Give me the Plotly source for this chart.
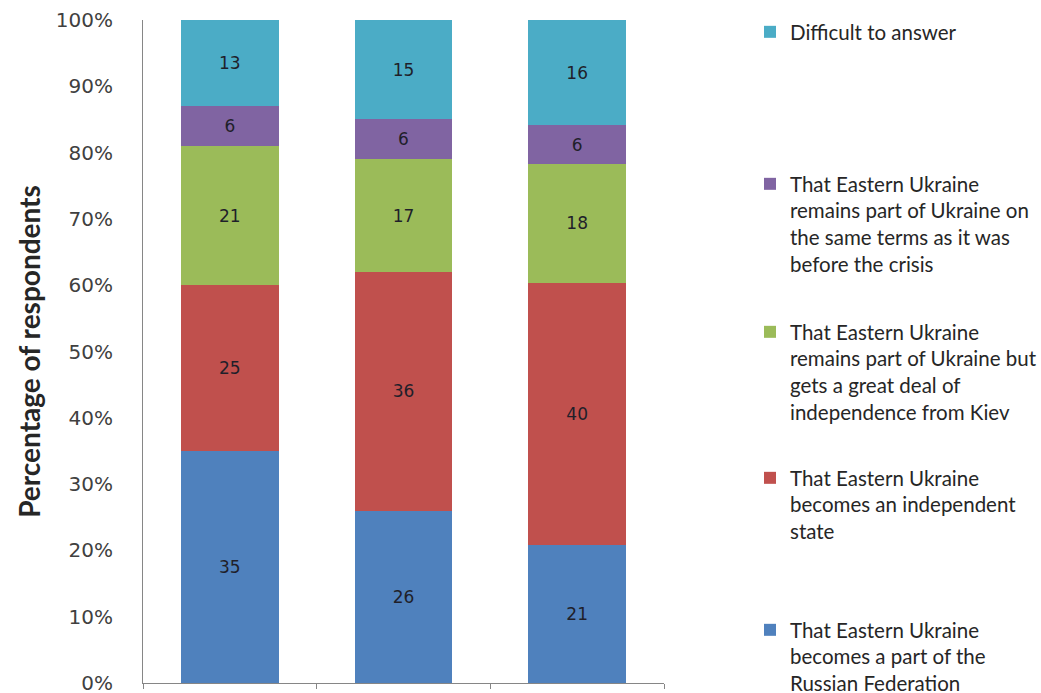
import plotly.graph_objects as go

categories = ["A", "B", "C"]
russia = [35, 26, 21]
independent = [25, 36, 40]
autonomy = [21, 17, 18]
same_terms = [6, 6, 6]
difficult = [13, 15, 16]

series = [
    ("That Eastern Ukraine<br>becomes a part of the<br>Russian Federation", russia, "#4F81BD", "legend5", 630),
    ("That Eastern Ukraine<br>becomes an independent<br>state", independent, "#C0504D", "legend4", 478),
    ("That Eastern Ukraine<br>remains part of Ukraine but<br>gets a great deal of<br>independence from Kiev", autonomy, "#9BBB59", "legend3", 332),
    ("That Eastern Ukraine<br>remains part of Ukraine on<br>the same terms as it was<br>before the crisis", same_terms, "#8064A2", "legend2", 184),
    ("Difficult to answer", difficult, "#4BACC6", "legend", 32),
]

W, H = 1041, 693
fig = go.Figure()
legends = {}
for name, vals, color, lg, ypx in series:
    fig.add_trace(go.Bar(
        x=categories, y=vals, name=name, marker=dict(color=color, line=dict(width=0)),
        text=vals, texttemplate="%{text}", textposition="inside", insidetextanchor="middle",
        textfont=dict(family="DejaVu Sans", size=17, color="#1f1f2a"),
        legend=lg, showlegend=True,
    ))
    legends[lg] = dict(
        xref="container", yref="container", x=750 / W, y=1 - (ypx - 20) / H,
        xanchor="left", yanchor="top", valign="top",
        font=dict(family="Lato", size=20.5, color="#262626"),
        bgcolor="rgba(0,0,0,0)", borderwidth=0, itemclick=False,
    )

fig.update_layout(
    width=W, height=H, barmode="stack", barnorm="percent", bargap=0.437,
    plot_bgcolor="white", paper_bgcolor="white",
    margin=dict(l=143, r=W - 664, t=20, b=10, autoexpand=False),
    showlegend=True,
    **legends,
)
fig.update_xaxes(showticklabels=False, showline=True, linecolor="#868686", linewidth=1,
                 showgrid=False, ticks="outside", tickson="boundaries", ticklen=5,
                 tickcolor="#868686", zeroline=False, automargin=False)
fig.update_yaxes(range=[0, 100], tickvals=[0, 10, 20, 30, 40, 50, 60, 70, 80, 90, 100],
                 ticktext=["0%", "10%", "20%", "30%", "40%", "50%", "60%", "70%", "80%", "90%", "100%"],
                 showline=True, linecolor="#868686", linewidth=1, showgrid=False, zeroline=False,
                 ticks="", ticklabelstandoff=25, automargin=False, ticklabeloverflow="allow",
                 tickfont=dict(family="DejaVu Sans", size=20, color="#404040"),
                 title=dict(text="<b>Percentage of respondents</b>", standoff=7,
                            font=dict(family="Lato", size=28, color="#262626")))

fig.write_html("out.html", config={"displayModeBar": False},
               post_script="document.body.style.margin='0';")
